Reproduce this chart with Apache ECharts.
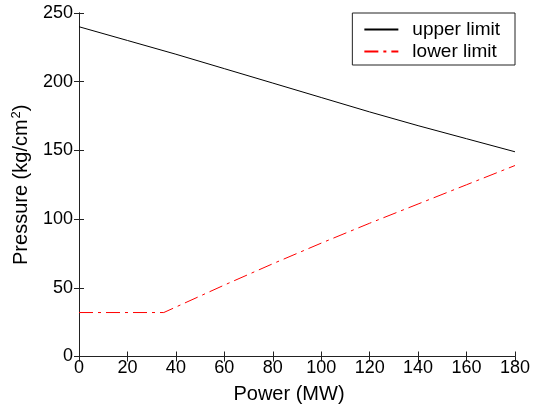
<!DOCTYPE html>
<html>
<head>
<meta charset="utf-8">
<script src="https://cdn.jsdelivr.net/npm/echarts@6/dist/echarts.min.js"></script>
<style>
  html, body { margin: 0; padding: 0; background: #fff; }
  #chart { width: 533px; height: 414px; }
</style>
</head>
<body>
<div id="chart"></div>
<script>
var powerUpper = [0, 20, 40, 60, 80, 100, 120, 140, 160, 180];
var upperLimit = [240, 230, 220, 209.5, 199, 188.5, 178, 168, 158.5, 149];
var powerLower = [0, 35, 40, 60, 80, 100, 120, 140, 160, 180];
var lowerLimit = [32, 32, 36, 52, 67.5, 82.5, 97, 111, 125, 139];
var xTicks = {min: 0, max: 180, interval: 20};
var yTicks = {min: 0, max: 250, interval: 50};

var font = 'Arial, "Liberation Sans", sans-serif';

function pairs(xs, ys){
    return xs.map(function(x, i){ return [x, ys[i]]; });
}

var axisLine = {show: true, lineStyle: {color: '#222', width: 1}};
var axisTick = {show: true, inside: true, length: 5, lineStyle: {color: '#222'}};

var chart = echarts.init(document.getElementById('chart'));
chart.setOption({
    animation: false,
    backgroundColor: '#fff',
    grid: {left: 79, top: 13, right: 18, bottom: 57.5, containLabel: false},
    legend: {
        orient: 'vertical',
        right: 18,
        top: 13,
        padding: [7, 15, 4, 11],
        itemGap: 3,
        itemWidth: 34,
        itemHeight: 14,
        borderColor: '#222',
        borderWidth: 1,
        borderRadius: 0,
        backgroundColor: '#fff',
        itemStyle: {opacity: 0},
        textStyle: {fontFamily: font, fontSize: 19, color: '#000', padding: [0, 0, 0, 9]},
        data: ['upper limit', 'lower limit']
    },
    xAxis: [{
        type: 'value',
        min: xTicks.min, max: xTicks.max, interval: xTicks.interval,
        name: 'Power (MW)',
        nameLocation: 'middle',
        nameGap: 28,
        nameTextStyle: {fontFamily: font, fontSize: 20, color: '#000', padding: [0, 16, 0, 0]},
        axisLine: axisLine,
        axisTick: axisTick,
        axisLabel: {fontFamily: font, fontSize: 18, color: '#000', margin: 3},
        splitLine: {show: false}
    }, {
        type: 'value',
        position: 'top',
        min: xTicks.min, max: xTicks.max, interval: xTicks.interval,
        axisLine: axisLine,
        axisTick: axisTick,
        axisLabel: {show: false},
        splitLine: {show: false}
    }],
    yAxis: [{
        type: 'value',
        min: yTicks.min, max: yTicks.max, interval: yTicks.interval,
        name: '{a|Pressure (kg/cm}{s|2}{a|)}',
        nameLocation: 'middle',
        nameGap: 46,
        nameTextStyle: {
            fontFamily: font, color: '#000',
            rich: {
                a: {fontFamily: font, fontSize: 20, color: '#000', lineHeight: 23},
                s: {fontFamily: font, fontSize: 13, color: '#000', verticalAlign: 'top', lineHeight: 23, padding: [0, 0, 0, 1]}
            }
        },
        axisLine: axisLine,
        axisTick: axisTick,
        axisLabel: {fontFamily: font, fontSize: 18, color: '#000', margin: 6},
        splitLine: {show: false}
    }, {
        type: 'value',
        position: 'right',
        min: yTicks.min, max: yTicks.max, interval: yTicks.interval,
        axisLine: axisLine,
        axisTick: axisTick,
        axisLabel: {show: false},
        splitLine: {show: false}
    }],
    series: [{
        name: 'upper limit',
        type: 'line',
        xAxisIndex: 0, yAxisIndex: 0,
        symbol: 'none',
        smooth: false,
        lineStyle: {color: '#000', width: 1},
        itemStyle: {color: '#000'},
        data: pairs(powerUpper, upperLimit)
    }, {
        name: 'lower limit',
        type: 'line',
        xAxisIndex: 0, yAxisIndex: 0,
        symbol: 'none',
        smooth: false,
        lineStyle: {color: '#ff0000', width: 1, type: [14, 5, 3, 5]},
        itemStyle: {color: '#ff0000'},
        data: pairs(powerLower, lowerLimit)
    }]
});
</script>
</body>
</html>
